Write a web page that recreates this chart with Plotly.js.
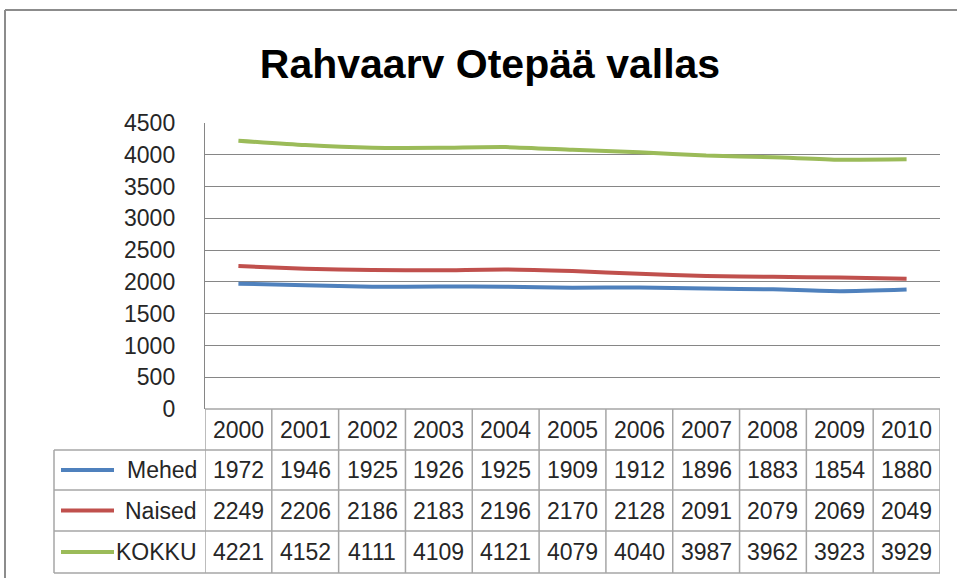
<!DOCTYPE html>
<html>
<head>
<meta charset="utf-8">
<script src="https://cdn.plot.ly/plotly-3.0.1.min.js"></script>
<style>html,body{margin:0;padding:0;background:#fff;}#chart{width:957px;height:578px;}</style>
</head>
<body>
<div id="chart"></div>
<script>
const years = [2000, 2001, 2002, 2003, 2004, 2005, 2006, 2007, 2008, 2009, 2010];
const seriesNames = ["Mehed", "Naised", "KOKKU"];
const mehed = [1972, 1946, 1925, 1926, 1925, 1909, 1912, 1896, 1883, 1854, 1880];
const naised = [2249, 2206, 2186, 2183, 2196, 2170, 2128, 2091, 2079, 2069, 2049];
const kokku = [4221, 4152, 4111, 4109, 4121, 4079, 4040, 3987, 3962, 3923, 3929];
const colors = ["#4F81BD", "#C0504D", "#9BBB59"];
const yTicks = [0, 500, 1000, 1500, 2000, 2500, 3000, 3500, 4000, 4500];

const W = 957, H = 578;
const M = {l: 205, r: 17, t: 123, b: 169};
const plotW = W - M.l - M.r, plotH = H - M.t - M.b;
const px2paperX = px => (px - M.l) / plotW;
const px2paperY = py => (H - M.b - py) / plotH;

const allSeries = [mehed, naised, kokku];
const traces = allSeries.map((vals, i) => ({
  x: years, y: vals, type: "scatter", mode: "lines", name: seriesNames[i],
  line: {color: colors[i], width: 4, shape: "spline", smoothing: 0.6},
  hoverinfo: "x+y+name"
}));

const gridCol = "#868686";
const textCol = "#262626";
const fontFam = "Liberation Sans, Arial, sans-serif";
const fs = 23;

const rowEdges = [409, 450, 490, 531, 573];
const shapes = [];
const annotations = [];

shapes.push({type: "line", xref: "paper", yref: "paper", x0: px2paperX(5), x1: px2paperX(957), y0: px2paperY(10), y1: px2paperY(10), line: {color: "#8c8c8c", width: 2}});
shapes.push({type: "line", xref: "paper", yref: "paper", x0: px2paperX(5), x1: px2paperX(5), y0: px2paperY(10), y1: px2paperY(578), line: {color: "#8c8c8c", width: 2}});

rowEdges.forEach((py, k) => {
  const x0 = k === 0 ? px2paperX(205) : px2paperX(54);
  shapes.push({type: "line", xref: "paper", yref: "paper", x0: x0, x1: 1, y0: px2paperY(py), y1: px2paperY(py), line: {color: "#a6a6a6", width: 1.5}});
});
const bounds = years.map(y => y - 0.5).concat([years[years.length - 1] + 0.5]);
bounds.forEach(b => {
  shapes.push({type: "line", xref: "x", yref: "paper", x0: b, x1: b, y0: px2paperY(rowEdges[0]), y1: px2paperY(rowEdges[4]), line: {color: "#a6a6a6", width: 1.5}});
});
shapes.push({type: "line", xref: "paper", yref: "paper", x0: px2paperX(54), x1: px2paperX(54), y0: px2paperY(rowEdges[1]), y1: px2paperY(rowEdges[4]), line: {color: "#a6a6a6", width: 1.5}});

years.forEach(y => {
  annotations.push({xref: "x", yref: "paper", x: y, y: px2paperY((rowEdges[0] + rowEdges[1]) / 2), text: String(y), showarrow: false, font: {family: fontFam, size: fs, color: textCol}, xanchor: "center", yanchor: "middle"});
});
allSeries.forEach((vals, i) => {
  const cy = px2paperY((rowEdges[i + 1] + rowEdges[i + 2]) / 2);
  vals.forEach((v, j) => {
    annotations.push({xref: "x", yref: "paper", x: years[j], y: cy, text: String(v), showarrow: false, font: {family: fontFam, size: fs, color: textCol}, xanchor: "center", yanchor: "middle"});
  });
  annotations.push({xref: "paper", yref: "paper", x: px2paperX(199), y: cy, text: seriesNames[i], showarrow: false, font: {family: fontFam, size: fs, color: textCol}, xanchor: "right", yanchor: "middle"});
  shapes.push({type: "line", xref: "paper", yref: "paper", x0: px2paperX(61), x1: px2paperX(114), y0: cy, y1: cy, line: {color: colors[i], width: 4}});
});

const layout = {
  width: W, height: H,
  margin: M,
  paper_bgcolor: "#ffffff", plot_bgcolor: "#ffffff",
  showlegend: false,
  title: {text: "<b>Rahvaarv Otepää vallas</b>", font: {family: fontFam, size: 41, color: "#000000"}, x: 0.512, xanchor: "center", y: 0.89, yanchor: "middle"},
  xaxis: {range: [1999.5, 2010.5], showticklabels: false, showgrid: false, zeroline: false, showline: false, ticks: "", fixedrange: true},
  yaxis: {range: [0, 4500], tickvals: yTicks, ticktext: yTicks.map(String), showgrid: true, gridcolor: gridCol, gridwidth: 1.2, zeroline: false, showline: true, linecolor: gridCol, linewidth: 1.2, ticks: "", ticklabelstandoff: 24, tickfont: {family: fontFam, size: fs, color: textCol}, fixedrange: true},
  shapes: shapes,
  annotations: annotations
};

Plotly.newPlot("chart", traces, layout, {displayModeBar: false, staticPlot: true});
</script>
</body>
</html>
